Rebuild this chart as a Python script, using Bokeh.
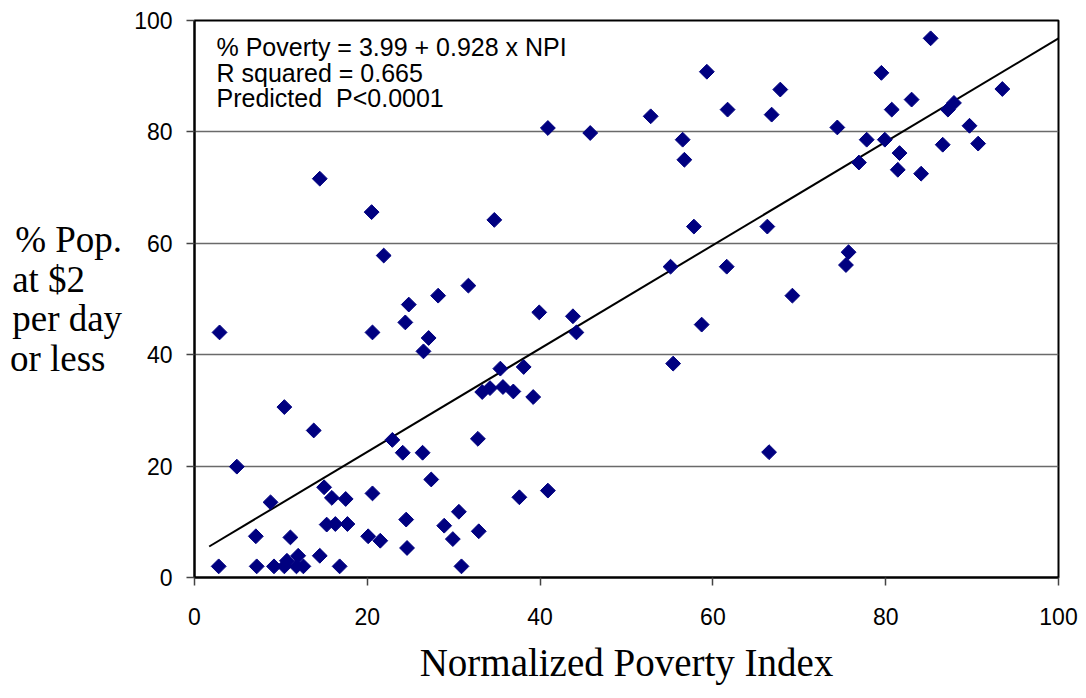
import math
from bokeh.plotting import figure
from bokeh.models import Range1d, Label, FixedTicker, ColumnDataSource
from bokeh.embed import file_html
from bokeh.resources import INLINE

# Normalized Poverty Index (x) and % population at $2/day or less (y)
npi = [2.9, 4.9, 2.8, 7.1, 7.2, 8.8, 9.2, 10.4, 11.1, 10.4, 10.7, 11.8, 12.0, 12.6,
       13.8, 14.5, 15.0, 15.9, 17.5, 15.3, 16.3, 17.7, 16.8, 20.6, 20.1, 21.5, 20.6,
       24.8, 24.4, 27.1, 26.5, 28.2, 31.7, 24.5, 24.6, 27.4, 28.9, 29.9, 30.6, 30.9,
       32.9, 32.8, 35.4, 33.3, 34.2, 35.7, 36.9, 38.1, 39.2, 37.6, 40.9, 39.9, 43.8,
       44.2, 14.5, 20.5, 21.9, 34.7, 40.9, 45.8, 52.8, 59.3, 56.5, 56.7, 61.7, 66.8,
       67.8, 57.8, 66.3, 55.1, 61.6, 69.2, 75.7, 75.4, 74.4, 77.8, 79.9, 81.6, 81.4,
       76.9, 84.1, 79.5, 80.7, 83.0, 85.2, 87.2, 87.9, 89.7, 86.6, 90.7, 93.5, 58.7,
       55.4, 66.5, 22.9, 24.1, 26.4]
poverty = [44.0, 19.9, 2.0, 7.4, 2.0, 13.5, 2.0, 30.6, 7.2, 2.0, 3.0, 2.0, 3.9, 2.0,
           26.4, 3.9, 16.2, 14.3, 14.1, 9.5, 9.6, 9.6, 2.0, 15.1, 7.4, 6.6, 44.0,
           49.0, 45.8, 43.0, 40.6, 50.6, 52.4, 10.4, 5.3, 17.6, 9.3, 6.9, 11.8, 2.0,
           8.3, 24.9, 37.5, 33.3, 34.0, 34.2, 33.4, 37.8, 32.4, 14.4, 15.6, 47.6, 46.9,
           44.0, 71.6, 65.6, 57.8, 64.2, 80.7, 79.8, 82.8, 90.8, 78.6, 75.0, 84.0, 83.1,
           87.6, 63.0, 63.0, 55.8, 55.8, 50.6, 58.4, 56.1, 80.8, 78.6, 78.6, 76.2, 73.2,
           74.5, 72.5, 90.6, 84.0, 85.8, 96.8, 84.0, 85.2, 81.1, 77.7, 77.9, 87.7, 45.4,
           38.4, 22.5, 24.7, 22.4, 22.4]

intercept = 3.99
slope = 0.928
fit_x = [1.7, 100.0]
fit_y = [intercept + slope * v for v in fit_x]

ticks = [0, 20, 40, 60, 80, 100]
annotation_lines = ["% Poverty = 3.99 + 0.928 x NPI", "R squared = 0.665", "Predicted\u00a0 P<0.0001"]
ylabel_lines = ["% Pop.", "at $2", "per day", "or less"]
# trailing non-breaking padding so the right-aligned axis label reads left-aligned
ylabel_pad = ["", "\u00a0\u00a0\u00a0\u00a0", "", "\u00a0\u2009"]
xlabel = "Normalized Poverty Index"

p = figure(width=1078, height=690, output_backend="svg", toolbar_location=None,
           x_range=Range1d(0, 100), y_range=Range1d(0, 100),
           min_border_left=194, min_border_right=20, min_border_top=20, min_border_bottom=113)
p.background_fill_color = "white"
p.border_fill_color = "white"
p.outline_line_color = "black"
p.outline_line_width = 2

p.xgrid.visible = False
p.ygrid.ticker = FixedTicker(ticks=ticks)
p.ygrid.grid_line_color = "#6a6a6a"
p.ygrid.grid_line_width = 1.5

for ax in (p.xaxis[0], p.yaxis[0]):
    ax.ticker = FixedTicker(ticks=ticks)
    ax.axis_line_color = "black"
    ax.axis_line_width = 2
    ax.major_tick_line_color = "#444444"
    ax.major_tick_line_width = 1.5
    ax.major_tick_out = 8
    ax.major_tick_in = 0
    ax.minor_tick_line_color = None
    ax.major_label_text_font = "Liberation Sans"
    ax.major_label_text_font_size = "23px"
    ax.major_label_text_color = "black"

p.yaxis[0].major_label_standoff = 14
p.xaxis[0].major_label_standoff = 22
p.xaxis[0].axis_label = xlabel
p.xaxis[0].axis_label_text_font = "Liberation Serif"
p.xaxis[0].axis_label_text_font_style = "normal"
p.xaxis[0].axis_label_text_font_size = "39px"
p.xaxis[0].axis_label_text_color = "black"
p.xaxis[0].axis_label_standoff = 13

yax = p.yaxis[0]
yax.axis_label = "\n".join(t + pad for t, pad in zip(ylabel_lines, ylabel_pad))
yax.axis_label_orientation = "horizontal"
yax.axis_label_text_font = "Liberation Serif"
yax.axis_label_text_font_style = "normal"
yax.axis_label_text_font_size = "37px"
yax.axis_label_text_color = "black"
yax.axis_label_text_line_height = 0.975
yax.axis_label_standoff = 9

src = ColumnDataSource(dict(x=npi, y=poverty))
p.line(fit_x, fit_y, line_color="black", line_width=2)
p.scatter("x", "y", source=src, marker="square", size=10.5, angle=math.pi / 4,
          fill_color="#000080", line_color="#000080")

ann_y = [531, 505, 480]
for txt, yy in zip(annotation_lines, ann_y):
    p.add_layout(Label(x=22, y=yy, x_units="screen", y_units="screen", text=txt,
                       text_font="Liberation Sans", text_font_size="25px",
                       text_color="black", text_baseline="alphabetic", text_align="left"))

open("out.html", "w").write(file_html(p, INLINE))
